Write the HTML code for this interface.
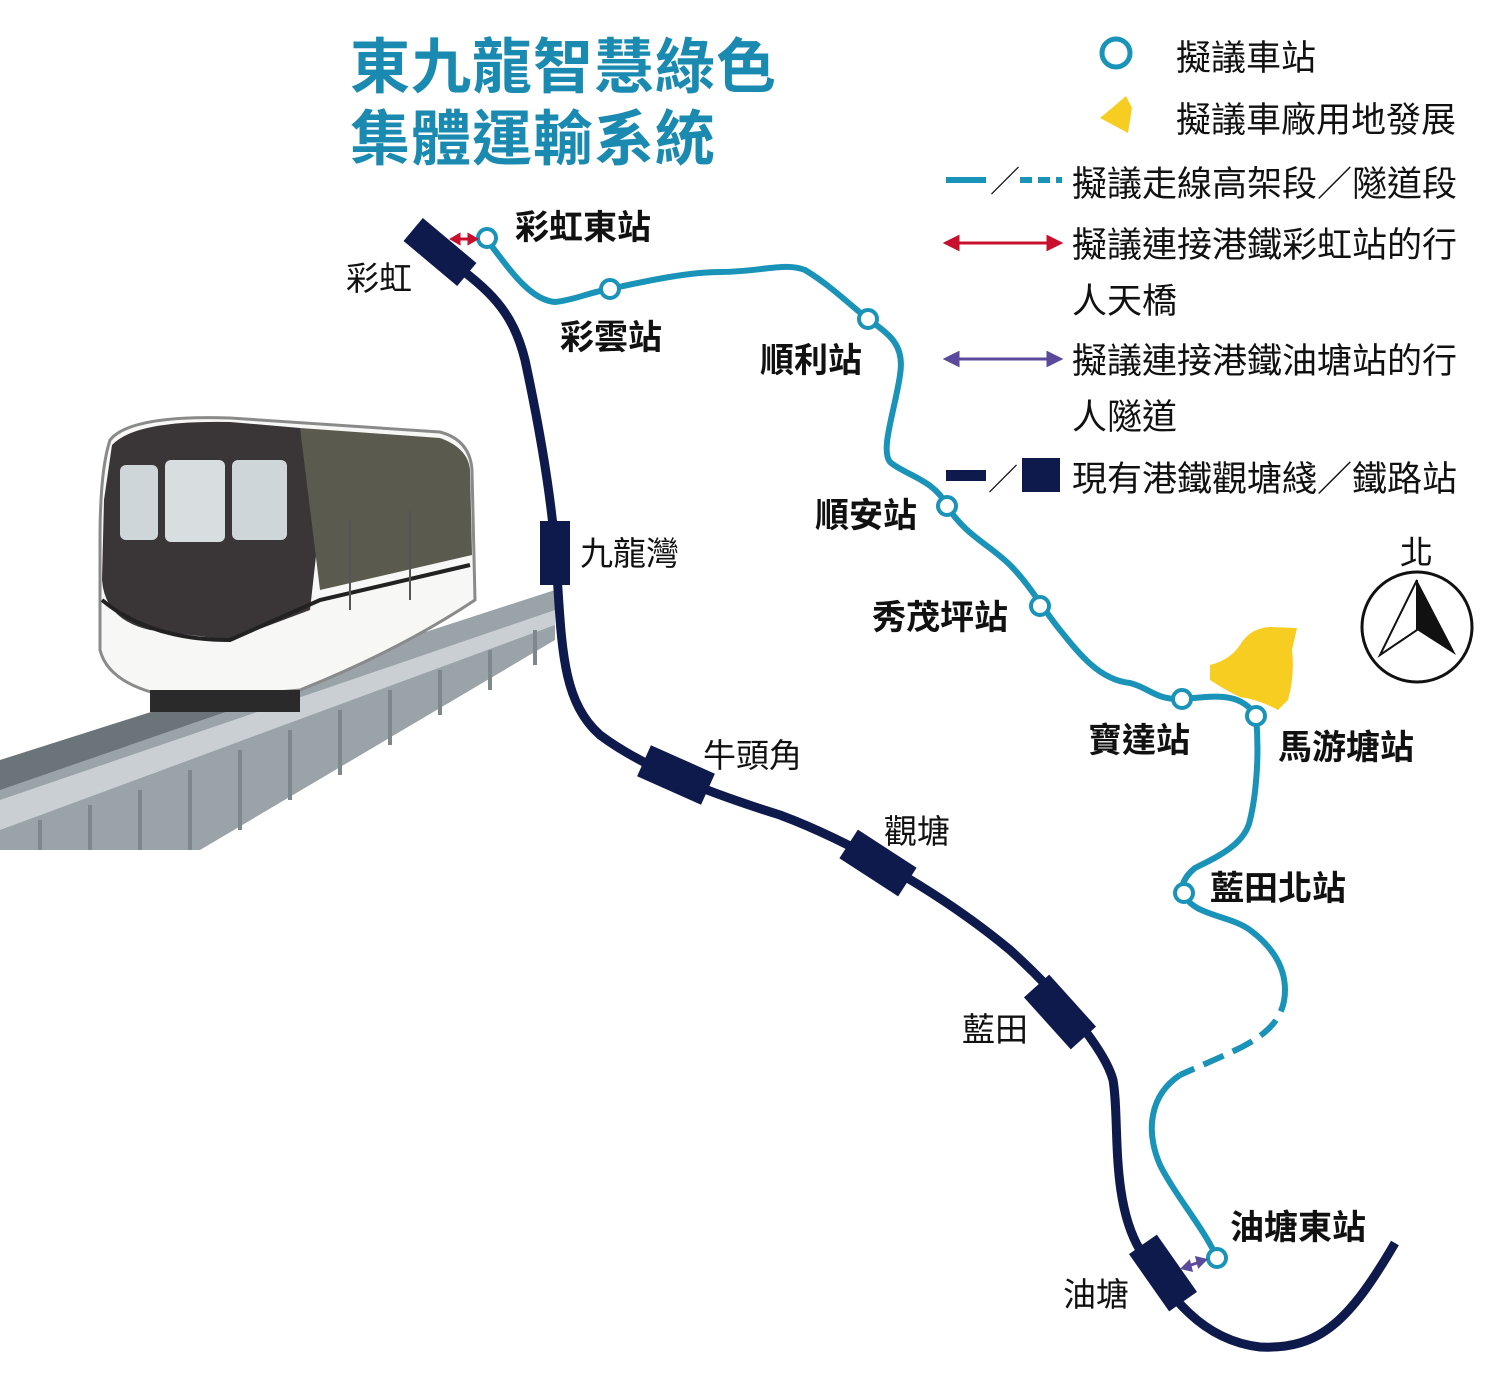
<!DOCTYPE html>
<html><head><meta charset="utf-8"><style>
html,body{margin:0;padding:0;background:#fff}
body{width:1500px;height:1382px;position:relative;overflow:hidden;font-family:"Liberation Sans","Noto Sans CJK TC",sans-serif}
.t{position:absolute;white-space:nowrap;color:#111}
.b{font-weight:bold}
</style></head><body>
<svg width="1500" height="1382" style="position:absolute;left:0;top:0">
<g>
<polygon points="0,770 555,590 555,640 200,850 0,850" fill="#9aa3a8"/>
<polygon points="0,800 555,610 555,625 0,830" fill="#c9cfd2"/>
<g stroke="#7d878c" stroke-width="4">
<line x1="40" y1="820" x2="40" y2="850"/><line x1="90" y1="805" x2="90" y2="850"/><line x1="140" y1="790" x2="140" y2="850"/><line x1="190" y1="770" x2="190" y2="850"/><line x1="240" y1="750" x2="240" y2="830"/><line x1="290" y1="730" x2="290" y2="800"/><line x1="340" y1="710" x2="340" y2="775"/><line x1="390" y1="690" x2="390" y2="745"/><line x1="440" y1="670" x2="440" y2="715"/><line x1="490" y1="650" x2="490" y2="690"/><line x1="535" y1="630" x2="535" y2="665"/>
</g>
<polygon points="0,760 220,690 260,700 0,790" fill="#6b7479"/>
<path d="M110,440 Q130,415 230,418 L440,432 Q470,440 472,470 L475,600 Q400,650 300,690 L190,700 Q110,690 100,650 L100,540 Q100,470 110,440 Z" fill="#f7f7f5" stroke="#8a8a8a" stroke-width="3"/>
<path d="M112,445 Q135,420 230,422 L300,428 Q320,470 320,520 L310,610 L230,640 L150,630 Q105,620 102,580 L104,500 Z" fill="#3a3536"/>
<path d="M300,428 L440,438 Q468,448 470,470 L472,555 L320,590 Z" fill="#5a5a4e"/>
<rect x="120" y="465" width="38" height="75" rx="6" fill="#cfd6da"/>
<rect x="165" y="460" width="60" height="82" rx="6" fill="#d8dee0"/>
<rect x="232" y="460" width="55" height="80" rx="6" fill="#cfd6da"/>
<path d="M102,600 Q150,640 230,640 L320,600 L470,565" fill="none" stroke="#222" stroke-width="4"/>
<line x1="350" y1="520" x2="350" y2="610" stroke="#555" stroke-width="2"/>
<line x1="410" y1="510" x2="410" y2="600" stroke="#555" stroke-width="2"/>
<rect x="150" y="690" width="150" height="22" fill="#2a2a2a"/>
</g>
<path d="M430,245 C480,285 510,300 525,360 C540,430 552,500 556,560 C562,640 560,700 600,735 C640,765 700,790 780,815 C860,845 950,900 1010,950 C1060,995 1105,1050 1113,1080 C1120,1120 1110,1200 1140,1250 C1170,1295 1200,1340 1260,1347 C1320,1350 1350,1320 1395,1243" fill="none" stroke="#0e1a4b" stroke-width="9"/>
<g fill="#0e1a4b">
<rect x="-35" y="-15" width="70" height="30" transform="translate(440,252) rotate(40)"/>
<rect x="-15" y="-32" width="30" height="64" transform="translate(555,553)"/>
<rect x="-35" y="-17" width="70" height="34" transform="translate(676,775) rotate(24)"/>
<rect x="-35" y="-17" width="70" height="34" transform="translate(878,863) rotate(33)"/>
<rect x="-35" y="-17" width="70" height="34" transform="translate(1060,1012) rotate(48)"/>
<rect x="-35" y="-17" width="70" height="34" transform="translate(1163,1273) rotate(55)"/>
</g>
<path d="M1210,665 Q1230,660 1240,645 Q1250,628 1270,627 L1297,628 L1292,650 Q1295,675 1288,700 L1278,710 Q1260,700 1240,697 Q1225,690 1210,680 Z" fill="#f8cd22"/>
<path d="M487,240 C510,270 530,300 555,302 C575,300 590,292 610,289 C650,280 690,272 720,272 C760,272 785,262 805,270 C830,285 850,305 868,319 C890,335 905,345 900,375 C895,410 880,450 890,462 C905,475 935,480 947,506 C965,535 990,545 1010,565 C1030,585 1045,612 1060,630 C1080,655 1100,680 1130,683 C1150,688 1155,700 1182,699 C1210,697 1240,690 1256,716 C1260,760 1255,800 1250,820 C1245,845 1215,858 1195,868 C1180,880 1180,895 1184,893" fill="none" stroke="#1a93b8" stroke-width="6"/>
<path d="M1184,893 C1190,915 1230,915 1250,930 C1270,945 1285,965 1285,990" fill="none" stroke="#1a93b8" stroke-width="6"/>
<path d="M1285,990 C1285,1020 1265,1035 1240,1048 C1215,1060 1195,1068 1180,1075" fill="none" stroke="#1a93b8" stroke-width="6" stroke-dasharray="22,10"/>
<path d="M1180,1075 C1150,1095 1145,1130 1160,1165 C1175,1195 1205,1230 1217,1258" fill="none" stroke="#1a93b8" stroke-width="6"/>
<g fill="#fff" stroke="#1a93b8" stroke-width="4">
<circle cx="487" cy="238" r="9"/><circle cx="610" cy="289" r="9"/><circle cx="868" cy="319" r="9"/><circle cx="947" cy="506" r="9"/><circle cx="1040" cy="606" r="9"/><circle cx="1182" cy="699" r="9"/><circle cx="1256" cy="716" r="9"/><circle cx="1184" cy="893" r="9"/><circle cx="1217" cy="1258" r="9"/>
<circle cx="1116" cy="53" r="14" stroke-width="5"/>
</g>
<g stroke="#c8102e" stroke-width="3" fill="#c8102e"><line x1="457" y1="239" x2="471" y2="239"/><polygon points="452,239 459,235 459,243"/><polygon points="476,239 469,235 469,243"/></g>
<g stroke="#5b4a9c" stroke-width="3" fill="#5b4a9c"><line x1="1188" y1="1266" x2="1200" y2="1262"/><polygon points="1183,1268 1189,1262 1191,1270"/><polygon points="1205,1260 1197,1258 1199,1266"/></g>
<path d="M1100,118 L1112,108 L1126,96 L1132,108 L1128,133 L1115,126 Z" fill="#f8cd22"/>
<line x1="946" y1="180" x2="986" y2="180" stroke="#1a93b8" stroke-width="6"/>
<text x="990" y="192" font-size="30" fill="#111">／</text>
<line x1="1020" y1="180" x2="1062" y2="180" stroke="#1a93b8" stroke-width="6" stroke-dasharray="12,6"/>
<g stroke="#c8102e" stroke-width="3" fill="#c8102e"><line x1="952" y1="243" x2="1054" y2="243"/><polygon points="946,243 958,237 958,249"/><polygon points="1060,243 1048,237 1048,249"/></g>
<g stroke="#5b4a9c" stroke-width="3" fill="#5b4a9c"><line x1="952" y1="359" x2="1054" y2="359"/><polygon points="946,359 958,353 958,365"/><polygon points="1060,359 1048,353 1048,365"/></g>
<rect x="946" y="470" width="40" height="11" fill="#0e1a4b"/>
<text x="988" y="490" font-size="30" fill="#111">／</text>
<rect x="1022" y="458" width="38" height="34" fill="#0e1a4b"/>
<circle cx="1417" cy="627" r="55" fill="#fff" stroke="#111" stroke-width="3"/>
<polygon points="1417,580 1380,655 1417,630" fill="#fff" stroke="#111" stroke-width="2"/>
<polygon points="1417,580 1456,655 1417,630" fill="#111"/>
</svg>
<div class="t b" style="left:350px;top:32px;font-size:60px;color:#1a8ab0;line-height:72px;letter-spacing:1px">東九龍智慧綠色<br>集體運輸系統</div>
<div class="t" style="left:1176px;top:30px;font-size:35px">擬議車站</div>
<div class="t" style="left:1176px;top:92px;font-size:35px">擬議車廠用地發展</div>
<div class="t" style="left:1072px;top:156px;font-size:35px">擬議走線高架段／隧道段</div>
<div class="t" style="left:1072px;top:218px;font-size:35px;line-height:56px">擬議連接港鐵彩虹站的行<br>人天橋</div>
<div class="t" style="left:1072px;top:334px;font-size:35px;line-height:56px">擬議連接港鐵油塘站的行<br>人隧道</div>
<div class="t" style="left:1072px;top:451px;font-size:35px">現有港鐵觀塘綫／鐵路站</div>
<div class="t" style="left:1400px;top:526px;font-size:33px">北</div>
<div class="t b" style="left:515px;top:200px;font-size:34px">彩虹東站</div>
<div class="t b" style="left:560px;top:310px;font-size:34px">彩雲站</div>
<div class="t b" style="left:760px;top:333px;font-size:34px">順利站</div>
<div class="t b" style="left:815px;top:488px;font-size:34px">順安站</div>
<div class="t b" style="left:872px;top:590px;font-size:34px">秀茂坪站</div>
<div class="t b" style="left:1088px;top:713px;font-size:34px">寶達站</div>
<div class="t b" style="left:1278px;top:720px;font-size:34px">馬游塘站</div>
<div class="t b" style="left:1210px;top:861px;font-size:34px">藍田北站</div>
<div class="t b" style="left:1230px;top:1200px;font-size:34px">油塘東站</div>
<div class="t" style="left:346px;top:252px;font-size:33px">彩虹</div>
<div class="t" style="left:580px;top:527px;font-size:33px">九龍灣</div>
<div class="t" style="left:703px;top:729px;font-size:33px">牛頭角</div>
<div class="t" style="left:884px;top:805px;font-size:33px">觀塘</div>
<div class="t" style="left:962px;top:1003px;font-size:33px">藍田</div>
<div class="t" style="left:1063px;top:1268px;font-size:33px">油塘</div>
</body></html>
